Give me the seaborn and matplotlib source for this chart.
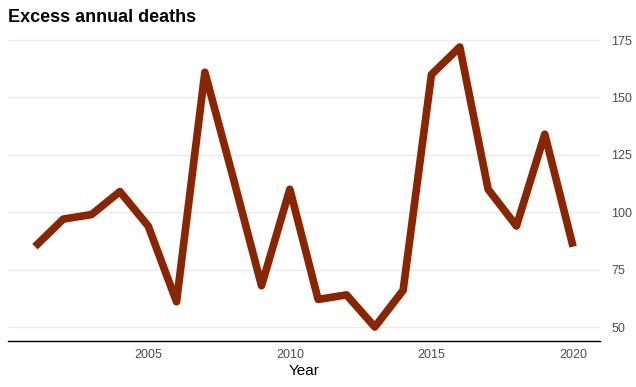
import matplotlib
matplotlib.use("Agg")
import matplotlib.pyplot as plt
import seaborn as sns
import pandas as pd

years = list(range(2001, 2021))
deaths = [85, 97, 99, 109, 94, 61, 161, 115, 68, 110, 62, 64, 50, 66, 160, 172, 110, 94, 134, 85]
x_ticks = [2005, 2010, 2015, 2020]
y_ticks = [50, 75, 100, 125, 150, 175]

df = pd.DataFrame({"Year": years, "Deaths": deaths})

sns.set_style("white")
plt.rcParams['font.family'] = ['Liberation Sans', 'DejaVu Sans']

fig = plt.figure(figsize=(6.36, 3.87), dpi=100)
ax = fig.add_axes([8/636, 46/387, 592/636, (341-33)/387])

sns.lineplot(data=df, x="Year", y="Deaths", ax=ax, color="#8B2500", linewidth=5.5,
             solid_joinstyle="round", solid_capstyle="butt")

ax.set_xlim(2000.05, 2020.95)
ax.set_ylim(43.9, 178.1)
ax.set_xticks(x_ticks)
ax.set_yticks(y_ticks)
ax.yaxis.tick_right()
ax.yaxis.set_label_position("right")
ax.set_ylabel("")
ax.set_xlabel("Year", fontsize=11, color="black", labelpad=2)
ax.tick_params(axis="both", length=0, labelsize=9, labelcolor="#4D4D4D")
ax.tick_params(axis="x", pad=6)
ax.tick_params(axis="y", pad=8)
ax.grid(axis="y", color="#EBEBEB", linewidth=1)
ax.set_axisbelow(True)
for s in ["top", "left", "right"]:
    ax.spines[s].set_visible(False)
ax.spines["bottom"].set_color("black")
ax.spines["bottom"].set_linewidth(1)

fig.text(8/636, 1 - 17/387, "Excess annual deaths", fontsize=13, fontweight="bold",
         va="center", ha="left", color="black")

fig.savefig("out.png", dpi=100)
